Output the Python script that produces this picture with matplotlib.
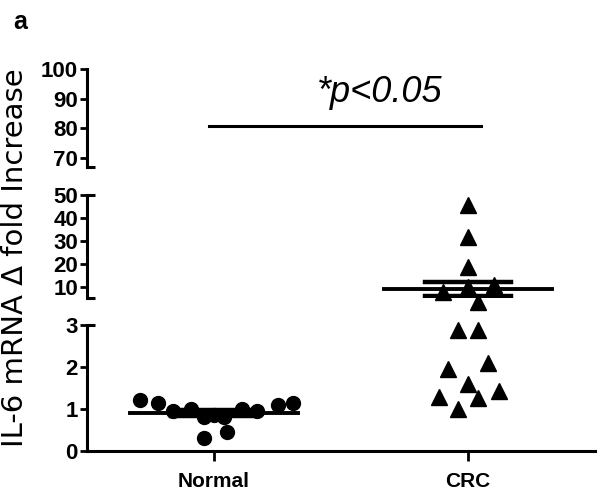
import matplotlib
matplotlib.use("Agg")
import matplotlib.pyplot as plt
import numpy as np

# ---- data ----
categories = ["Normal", "CRC"]
normal_values = [1.22, 1.14, 0.96, 0.99, 0.80, 0.85, 0.82, 0.45, 0.30, 1.00, 0.96, 1.10, 1.15]
normal_jitter = [-0.29, -0.22, -0.16, -0.09, -0.04, 0.00, 0.04, 0.05, -0.04, 0.11, 0.17, 0.25, 0.31]
crc_values = [45.6, 31.7, 18.7, 8.0, 10.0, 11.0, 3.5, 2.88, 2.88, 2.10, 1.95, 1.60, 1.29, 1.26, 1.42, 1.00]
crc_jitter = [0.0, 0.0, 0.0, -0.1, 0.0, 0.1, 0.04, -0.04, 0.04, 0.08, -0.08, 0.0, -0.115, 0.04, 0.12, -0.04]
low_ticks = [0, 1, 2, 3]
mid_ticks = [10, 20, 30, 40, 50]
top_ticks = [70, 80, 90, 100]
sig_text = "*p<0.05"

plt.rcParams['font.family'] = ['Liberation Sans', 'DejaVu Sans']

fig = plt.figure(figsize=(6, 4.9), dpi=100)
W = 0.847
L = 0.145
ax_low = fig.add_axes([L, 0.0796, W, 0.2571])
ax_mid = fig.add_axes([L, 0.391, W, 0.211])
ax_top = fig.add_axes([L, 0.659, W, 0.200])

segments = [(ax_low, (0, 3), low_ticks, -1, 3.2),
            (ax_mid, (5, 50), mid_ticks, 3.2, 55),
            (ax_top, (67, 100), top_ticks, 55, 1000)]

lw = 2.2
xs = np.arange(1, len(categories) + 1)
groups = [(normal_values, normal_jitter, 'o', 10), (crc_values, crc_jitter, '^', 11)]

for ax, ylim, ticks, lo, hi in segments:
    ax.set_xlim(0.5, 2.5)
    ax.set_ylim(*ylim)
    ax.set_yticks(ticks)
    ax.set_yticklabels([str(t) for t in ticks], fontsize=16, fontweight='bold')
    ax.tick_params(axis='y', length=5, width=2, pad=1.5)
    for s in ['top', 'right']:
        ax.spines[s].set_visible(False)
    ax.spines['left'].set_linewidth(lw)
    ax.patch.set_alpha(0)
    for xi, (vals, jit, mk, ms) in zip(xs, groups):
        v = np.array(vals)
        j = np.array(jit)
        sel = (v > lo) & (v <= hi)
        ax.plot(xi + j[sel], v[sel], linestyle='none', marker=mk, markersize=ms,
                color='black', clip_on=False, zorder=3)
        m = v.mean()
        sem = v.std(ddof=1) / np.sqrt(len(v))
        if ylim[0] <= m <= ylim[1]:
            ax.plot([xi - 0.33, xi + 0.33], [m, m], color='black', lw=2.8, zorder=4)
            ax.plot([xi, xi], [m - sem, m + sem], color='black', lw=2.8, zorder=4)
            for e in (m - sem, m + sem):
                ax.plot([xi - 0.17, xi + 0.17], [e, e], color='black', lw=3.2, zorder=4)

# lower axis: x axis
ax_low.spines['bottom'].set_linewidth(lw)
ax_low.set_xticks(xs)
ax_low.set_xticklabels(categories, fontsize=15, fontweight='bold')
ax_low.tick_params(axis='x', length=7, width=2, pad=8)
for ax in (ax_mid, ax_top):
    ax.spines['bottom'].set_visible(False)
    ax.set_xticks([])

# break caps
cap = 0.016
for ax, ys in ((ax_low, [1]), (ax_mid, [0, 1]), (ax_top, [0])):
    for y in ys:
        ax.plot([0, cap], [y, y], transform=ax.transAxes, color='black',
                lw=lw, clip_on=False, solid_capstyle='butt')

# significance
ax_top.plot([0.98, 2.05], [81, 81], color='black', lw=2.2, clip_on=False)
ax_top.text(1.65, 92, sig_text, fontsize=26, style='italic', ha='center', va='center')

fig.text(0.025, 0.474, "IL-6 mRNA \u0394 fold Increase", rotation=90, fontsize=21,
         family=['DejaVu Sans'], ha='center', va='center')
fig.text(0.033, 0.955, "a", fontsize=18, fontweight='bold', ha='center', va='center')

fig.savefig("out.png", dpi=100)
